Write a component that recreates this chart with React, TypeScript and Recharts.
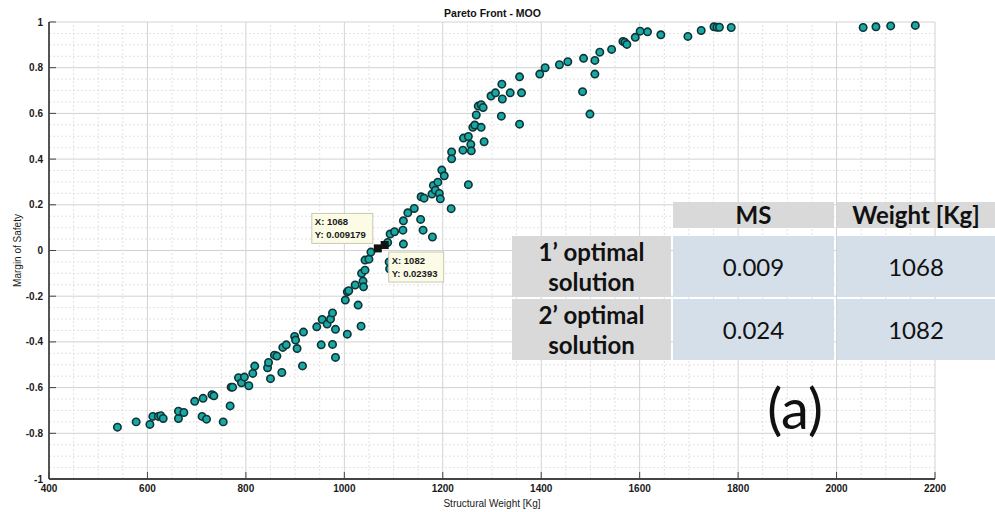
import {
  CartesianGrid,
  ReferenceLine,
  Scatter,
  ScatterChart,
  XAxis,
  YAxis,
} from "recharts";

// Pareto front of the multi-objective optimisation: margin of safety vs.
// structural weight, with the two selected optimal solutions tagged by
// MATLAB-style data tips and summarised in a small table on the right.

const WEIGHT = [
  539, 577, 605, 611, 622, 627, 632, 663, 663, 674, 696, 713, 711, 720, 731, 735,
  754, 768, 770, 773, 785, 791, 797, 806, 814, 818, 844, 846, 850, 858, 863, 873,
  875, 882, 899, 901, 904, 917, 915, 944, 953, 955, 965, 972, 976, 976, 982, 982,
  1002, 1006, 1006, 1009, 1022, 1028, 1034, 1035, 1038, 1039, 1042, 1042, 1050,
  1054, 1091, 1092, 1088, 1093, 1102, 1119, 1120, 1120, 1129, 1142, 1155, 1160,
  1179, 1156, 1162, 1178, 1181, 1185, 1190, 1193, 1195, 1198, 1203, 1217, 1218,
  1218, 1241, 1242, 1252, 1252, 1257, 1258, 1261, 1265, 1268, 1272, 1278, 1278,
  1282, 1284, 1298, 1307, 1320, 1321, 1319, 1337, 1356, 1360, 1356, 1397, 1408,
  1437, 1454, 1484, 1486, 1499, 1509, 1509, 1519, 1543, 1566, 1570, 1574, 1591,
  1601, 1616, 1643, 1698, 1725, 1751, 1757, 1762, 1786, 2054, 2080, 2110, 2160,
];

const MARGIN = [
  -0.773, -0.75, -0.761, -0.726, -0.726, -0.723, -0.735, -0.735, -0.703, -0.709,
  -0.66, -0.647, -0.726, -0.738, -0.631, -0.636, -0.75, -0.68, -0.598, -0.598,
  -0.557, -0.579, -0.554, -0.592, -0.538, -0.506, -0.513, -0.49, -0.561, -0.458,
  -0.462, -0.534, -0.424, -0.413, -0.376, -0.392, -0.429, -0.357, -0.505, -0.334,
  -0.413, -0.302, -0.322, -0.3, -0.273, -0.411, -0.345, -0.468, -0.217, -0.366,
  -0.181, -0.176, -0.151, -0.239, -0.331, -0.1, -0.134, -0.159, -0.086, -0.042,
  -0.038, -0.007, -0.05, -0.08, 0.035, 0.072, 0.082, 0.089, 0.13, 0.028, 0.165,
  0.184, 0.136, 0.089, 0.059, 0.235, 0.229, 0.247, 0.285, 0.264, 0.299, 0.25,
  0.226, 0.352, 0.327, 0.183, 0.431, 0.401, 0.439, 0.492, 0.499, 0.288, 0.464,
  0.436, 0.539, 0.549, 0.593, 0.632, 0.638, 0.539, 0.626, 0.476, 0.676, 0.69,
  0.728, 0.663, 0.588, 0.69, 0.76, 0.69, 0.553, 0.772, 0.8, 0.813, 0.826, 0.695,
  0.841, 0.597, 0.832, 0.772, 0.868, 0.88, 0.915, 0.911, 0.902, 0.933, 0.96,
  0.957, 0.944, 0.937, 0.963, 0.979, 0.977, 0.977, 0.976, 0.976, 0.979, 0.983,
  0.985,
];

// selected solutions (data tips)
const OPT_WEIGHT = [1068, 1082];
const OPT_MARGIN = [0.009179, 0.02393];
const OPT_LABEL = ["1’ optimal", "2’ optimal"];
const OPT_MS = ["0.009", "0.024"];

const X_TICKS = [400, 600, 800, 1000, 1200, 1400, 1600, 1800, 2000, 2200];
const Y_TICKS = [-1, -0.8, -0.6, -0.4, -0.2, 0, 0.2, 0.4, 0.6, 0.8, 1];

// minor grid: quarters of the x step, quarters of the y step
const X_MINOR = X_TICKS.slice(0, -1).flatMap((t) => [t + 50, t + 100, t + 150]);
const Y_MINOR = Y_TICKS.slice(0, -1).flatMap((t) =>
  [0.05, 0.1, 0.15].map((d) => Math.round((t + d) * 100) / 100)
);

const points = WEIGHT.map((x, i) => ({ x, y: MARGIN[i] }));
const optimal = OPT_WEIGHT.map((x, i) => ({ x, y: OPT_MARGIN[i], tip: i }));

const AXIS_FONT = {
  fontSize: 10,
  fontWeight: 700,
  fill: "#1a1a1a",
  fontFamily: "Liberation Sans, Arial",
};

function Dot(props: any) {
  const { cx, cy } = props;
  return <circle cx={cx} cy={cy} r={3.7} fill="#1aa8a6" stroke="#0e3434" strokeWidth={1.6} />;
}

// black square marker plus the yellow data-tip box next to it
function DataTip(props: any) {
  const { cx, cy, payload } = props;
  const first = payload.tip === 0;
  const w = first ? 61 : 55;
  const h = 30;
  const bx = first ? cx - 5 - w : cx + 4;
  const by = first ? cy - 5 - h : cy + 7;
  const font = { fontSize: 9.5, fontWeight: 700, fontFamily: "Liberation Sans, Arial", fill: "#1a1a1a" };
  return (
    <g>
      <rect x={cx - 4} y={cy - 4} width={8} height={8} fill="#111" />
      <rect x={bx} y={by} width={w} height={h} fill="#fbfbe6" stroke="#c8c8b8" strokeWidth={1} />
      <text x={bx + 3} y={by + 12} {...font}>
        X: {payload.x}
      </text>
      <text x={bx + 3} y={by + 25} {...font}>
        Y: {payload.y}
      </text>
    </g>
  );
}

const gray = "#d9d9d9";
const blue = "#d4dfe9";

function Cell({
  left,
  top,
  width,
  height,
  bg,
  bold,
  children,
}: {
  left: number;
  top: number;
  width: number;
  height: number;
  bg: string;
  bold?: boolean;
  children: React.ReactNode;
}) {
  return (
    <div
      style={{
        position: "absolute",
        left,
        top,
        width,
        height,
        background: bg,
        display: "flex",
        alignItems: "center",
        justifyContent: "center",
        textAlign: "center",
        fontFamily: "Lato, 'Open Sans', sans-serif",
        fontWeight: bold ? 700 : 400,
        fontSize: 24,
        lineHeight: "30px",
        color: "#111",
      }}
    >
      {children}
    </div>
  );
}

export default function App() {
  const rowTop = [236, 299];
  return (
    <div style={{ position: "relative", width: 995, height: 512, background: "#fff", overflow: "hidden" }}>
      <style>{"html,body{margin:0;padding:0;overflow:hidden}"}</style>
      <ScatterChart width={995} height={512} margin={{ top: 22, right: 60, bottom: 0, left: 0 }}>
        <CartesianGrid stroke="#d2d2d2" strokeWidth={1} />
        {X_MINOR.map((v) => (
          <ReferenceLine key={"x" + v} x={v} stroke="#e2e2e2" strokeDasharray="2 2" />
        ))}
        {Y_MINOR.map((v) => (
          <ReferenceLine key={"y" + v} y={v} stroke="#e2e2e2" strokeDasharray="2 2" />
        ))}
        <XAxis
          type="number"
          dataKey="x"
          domain={[400, 2200]}
          ticks={X_TICKS}
          interval={0}
          height={33}
          tickSize={-7}
          tickMargin={13}
          tick={AXIS_FONT}
          tickLine={{ stroke: "#444" }}
          axisLine={{ stroke: "#444", strokeWidth: 1.8 }}
          label={{
            value: "Structural Weight [Kg]",
            position: "center",
            dy: 8,
            style: { ...AXIS_FONT, fontSize: 10, fontWeight: 400 },
          }}
        />
        <YAxis
          type="number"
          dataKey="y"
          domain={[-1, 1]}
          ticks={Y_TICKS}
          interval={0}
          width={49}
          tickSize={-7}
          tickMargin={13}
          tick={AXIS_FONT}
          tickLine={{ stroke: "#444" }}
          axisLine={{ stroke: "#444", strokeWidth: 1.8 }}
          label={{
            value: "Margin of Safety",
            position: "center",
            angle: -90,
            dx: -7,
            style: { ...AXIS_FONT, fontSize: 10, fontWeight: 400 },
          }}
        />
        <Scatter data={points} shape={Dot} isAnimationActive={false} />
        <Scatter data={optimal} shape={DataTip} isAnimationActive={false} />
      </ScatterChart>

      <div
        style={{
          position: "absolute",
          left: 0,
          top: 7,
          width: 985,
          textAlign: "center",
          fontFamily: "Liberation Sans, Arial",
          fontWeight: 700,
          fontSize: 10.5,
          color: "#111",
        }}
      >
        Pareto Front - MOO
      </div>

      <Cell left={673} top={202} width={161} height={26} bg={gray} bold>
        MS
      </Cell>
      <Cell left={837} top={202} width={158} height={26} bg={gray} bold>
        Weight [Kg]
      </Cell>
      {OPT_WEIGHT.map((w, i) => (
        <div key={w}>
          <Cell left={512} top={rowTop[i]} width={159} height={61} bg={gray} bold>
            {OPT_LABEL[i]}
            <br />
            solution
          </Cell>
          <Cell left={673} top={rowTop[i]} width={161} height={61} bg={blue}>
            {OPT_MS[i]}
          </Cell>
          <Cell left={837} top={rowTop[i]} width={158} height={61} bg={blue}>
            {w}
          </Cell>
        </div>
      ))}

      <div
        style={{
          position: "absolute",
          left: 745,
          top: 376,
          width: 100,
          textAlign: "center",
          fontFamily: "Lato, 'Open Sans', sans-serif",
          fontSize: 56,
          lineHeight: "64px",
          color: "#111",
        }}
      >
        (a)
      </div>
    </div>
  );
}
